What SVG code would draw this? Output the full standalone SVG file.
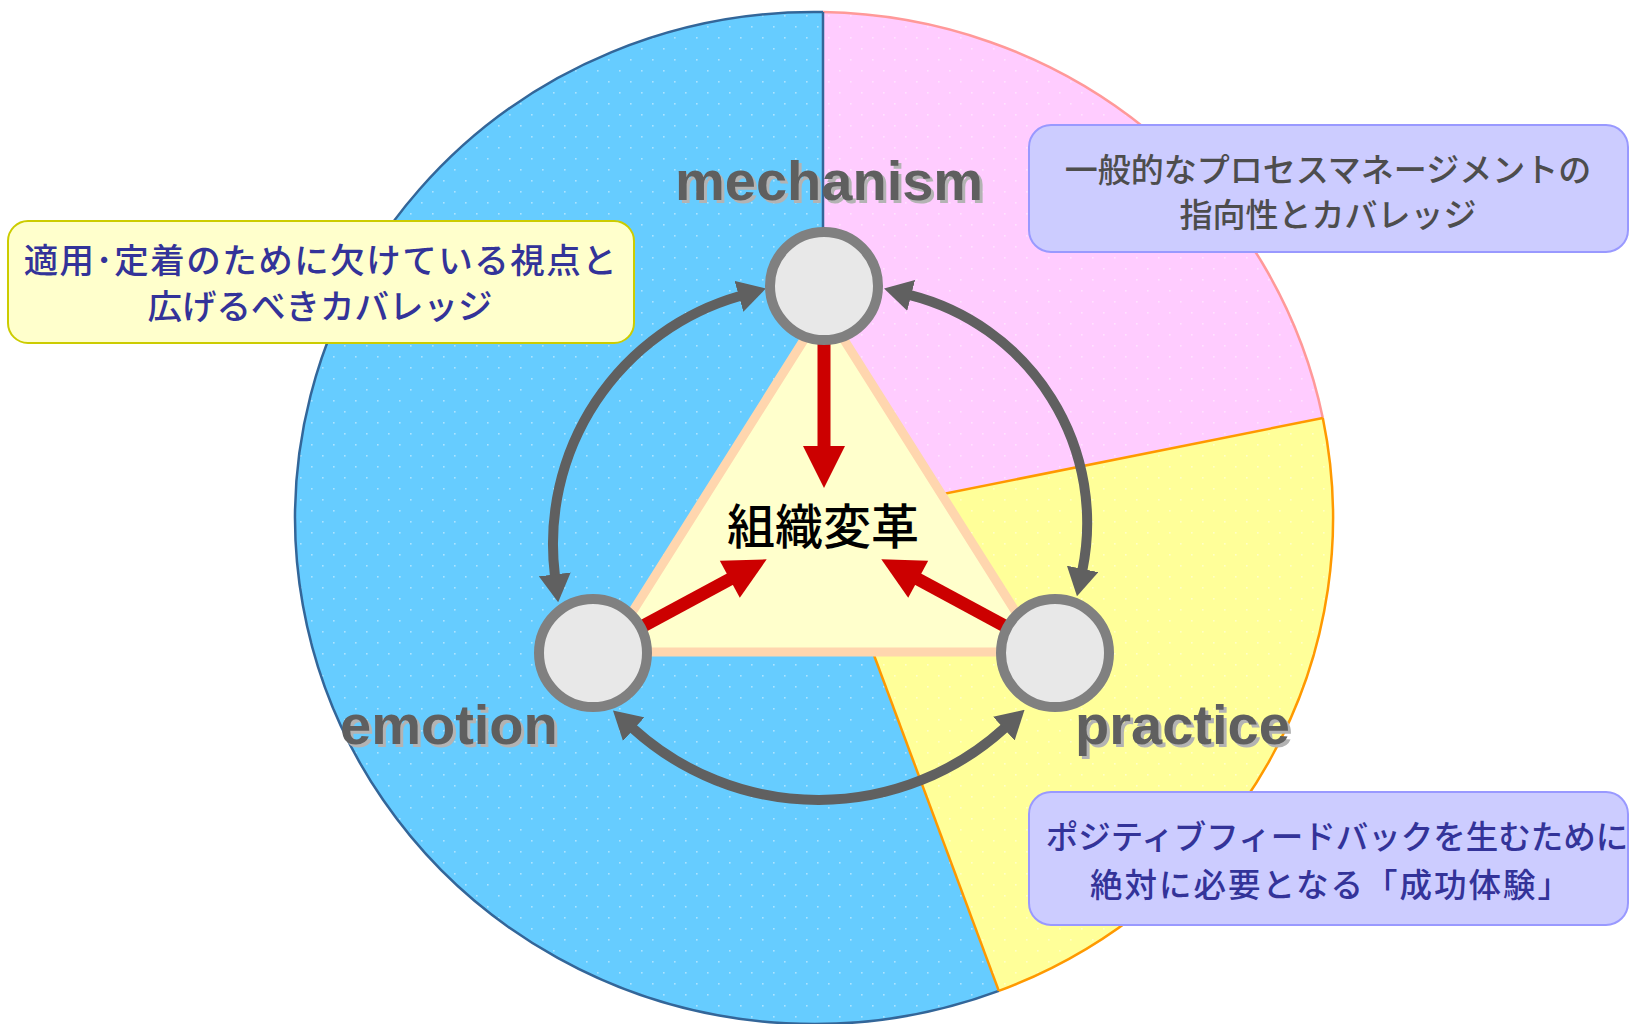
<svg xmlns="http://www.w3.org/2000/svg" width="1629" height="1024" viewBox="0 0 1629 1024">
  <style>
    .lbl { font-family: "Liberation Sans", Arial, sans-serif; font-weight: bold; font-size: 56px; }
    .lblsh { fill: #B3B3B3; }
    .lblfg { fill: #5F5F5F; }
    .jp { font-family: "Noto Sans CJK JP", "Noto Sans", sans-serif; text-anchor: middle; font-weight: 500; }
    .node { fill: #E8E8E8; stroke: #808080; stroke-width: 10; }
    .garc { fill: none; stroke: #606060; stroke-width: 10; marker-start: url(#ga); marker-end: url(#ga); }
    .red { fill: #CC0000; }
    .redline { stroke: #CC0000; stroke-width: 13; }
  </style>
  <defs>
    <marker id="ga" viewBox="0 0 28 32" refX="1" refY="16" markerWidth="28" markerHeight="32" markerUnits="userSpaceOnUse" orient="auto-start-reverse">
      <path d="M0,0 L28,16 L0,32 Z" fill="#606060"/>
    </marker>
    <pattern id="dots" width="22" height="22" patternUnits="userSpaceOnUse">
      <rect x="3" y="4" width="1.6" height="1.6" fill="#FFFFFF" opacity="0.45"/>
      <rect x="14" y="15" width="1.6" height="1.6" fill="#FFFFFF" opacity="0.45"/>
    </pattern>
  </defs>

  <g id="pie">
    <path d="M823,518 L823,12.1 A519,506 0 1 0 998.8,990.9 Z" fill="#66CCFF"/>
    <path d="M823,518 L823,12.1 A519,506 0 0 1 1322.8,418 Z" fill="#FFCCFF"/>
    <path d="M823,518 L1322.8,418 A519,506 0 0 1 998.8,990.9 Z" fill="#FFFF99"/>
    <ellipse cx="814" cy="518" rx="519" ry="506" fill="url(#dots)"/>
    <path d="M823,12.1 A519,506 0 1 0 998.8,990.9" fill="none" stroke="#336699" stroke-width="2.5"/>
    <path d="M823,12.1 A519,506 0 0 1 1322.8,418" fill="none" stroke="#FF9999" stroke-width="2.5"/>
    <path d="M1322.8,418 A519,506 0 0 1 998.8,990.9" fill="none" stroke="#FF9900" stroke-width="2.5"/>
    <line x1="823" y1="518" x2="823" y2="12.1" stroke="#336699" stroke-width="2.5"/>
    <line x1="823" y1="518" x2="1322.8" y2="418" stroke="#FF9900" stroke-width="2.5"/>
    <line x1="823" y1="518" x2="998.8" y2="990.9" stroke="#FF9900" stroke-width="2.5"/>
  </g>

  <g id="center">
    <polygon points="824,308 607,652 1041,652" fill="#FFFFCC" stroke="#FFD6AE" stroke-width="9" stroke-linejoin="miter"/>
    <text class="jp" x="823" y="544" font-size="48" fill="#000000">組織変革</text>
  </g>

  <g id="connectors">
    <line class="redline" x1="824" y1="300" x2="824" y2="448"/>
    <polygon class="red" points="803,446 845,446 824,488"/>
    <line class="redline" x1="593" y1="653" x2="731" y2="578.6"/>
    <polygon class="red" points="739.8,597.8 719.8,560.8 766.7,559.3"/>
    <line class="redline" x1="1055" y1="653" x2="917" y2="578.6"/>
    <polygon class="red" points="908.2,597.8 928.2,560.8 881.3,559.3"/>
    <path class="garc" d="M554.9,575.4 A258,258 0 0 1 739.9,296"/>
    <path class="garc" d="M910.2,295.1 A235,235 0 0 1 1082.4,569.9"/>
    <path class="garc" d="M633,728.5 A276.5,276.5 0 0 0 1004.6,728"/>
  </g>

  <g id="node-mechanism">
    <circle class="node" cx="824" cy="286" r="54"/>
    <text class="lbl lblsh" x="678" y="203">mechanism</text>
    <text class="lbl lblfg" x="675" y="200">mechanism</text>
  </g>
  <g id="node-emotion">
    <circle class="node" cx="593" cy="653" r="54"/>
    <text class="lbl lblsh" x="343" y="747">emotion</text>
    <text class="lbl lblfg" x="340" y="744">emotion</text>
  </g>
  <g id="node-practice">
    <circle class="node" cx="1055" cy="653" r="54"/>
    <text class="lbl lblsh" x="1078" y="747">practice</text>
    <text class="lbl lblfg" x="1075" y="744">practice</text>
  </g>

  <g id="note-left">
    <rect x="8" y="221" width="626" height="122" rx="20" fill="#FFFFCC" stroke="#CCCC00" stroke-width="2"/>
    <text class="jp" font-size="34.5" fill="#333399"><tspan x="321" y="273" letter-spacing="1.5">適用･定着のために欠けている視点と</tspan><tspan x="320" y="319">広げるべきカバレッジ</tspan></text>
  </g>
  <g id="note-top-right">
    <rect x="1029" y="125" width="599" height="127" rx="22" fill="#CCCCFF" stroke="#9999FF" stroke-width="2"/>
    <text class="jp" font-size="33" fill="#4D4D4D"><tspan x="1328" y="182">一般的なプロセスマネージメントの</tspan><tspan x="1328" y="227">指向性とカバレッジ</tspan></text>
  </g>
  <g id="note-bottom-right">
    <rect x="1029" y="792" width="599" height="133" rx="22" fill="#CCCCFF" stroke="#9999FF" stroke-width="2"/>
    <text class="jp" font-size="32.5" fill="#333399"><tspan x="1337" y="849">ポジティブフィードバックを生むために</tspan><tspan x="1331" y="897" letter-spacing="2">絶対に必要となる「成功体験」</tspan></text>
  </g>
</svg>
